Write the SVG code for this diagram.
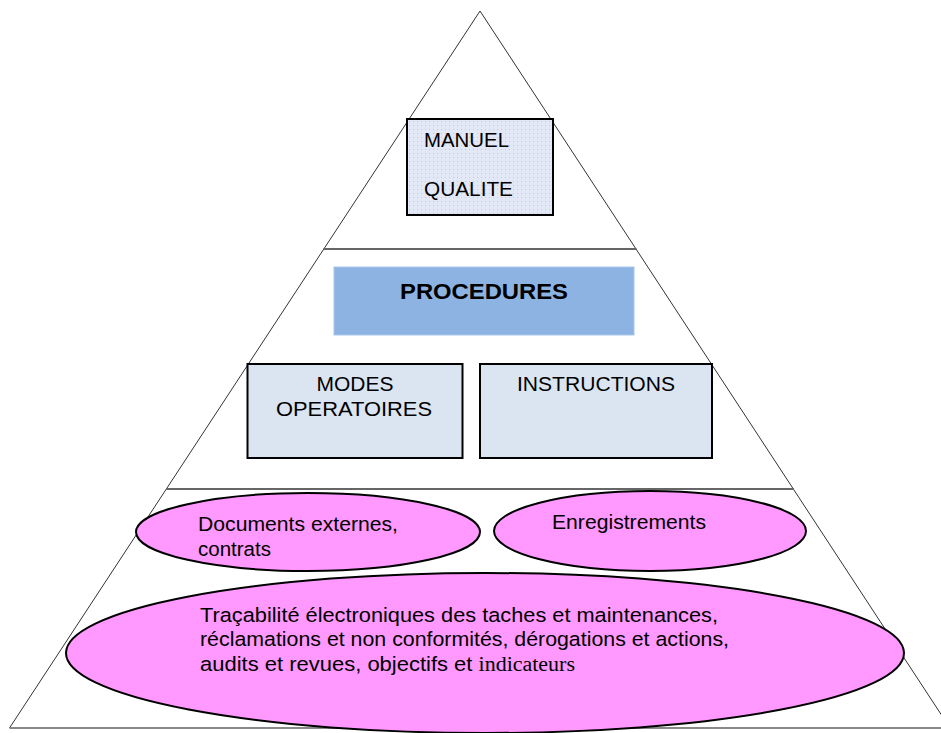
<svg xmlns="http://www.w3.org/2000/svg" width="941" height="733" viewBox="0 0 941 733">
  <style>
    .side { stroke: #333; stroke-width: 1; fill: none; }
    .divider { stroke: #666; stroke-width: 2; fill: none; }
    .base { stroke: #888; stroke-width: 2; fill: none; }
    .box { fill: #dbe5f1; stroke: #000; stroke-width: 2; }
    .oval { fill: #ff99ff; stroke: #000; stroke-width: 2; }
    .t { font-family: "Liberation Sans", Arial, sans-serif; fill: #000; }
    .serif { font-family: "Liberation Serif", "Times New Roman", serif; }
  </style>
  <defs>
    <pattern id="dots" width="4" height="4" patternUnits="userSpaceOnUse">
      <rect width="4" height="4" fill="#e2e8f5"/>
      <rect x="1" y="1" width="1" height="1" fill="#f2b6c8"/>
    </pattern>
  </defs>

  <rect width="941" height="733" fill="#fff"/>

  <!-- pyramid outline and level separators -->
  <g id="pyramid">
    <line class="side" x1="480" y1="11" x2="9.5" y2="728"/>
    <line class="side" x1="480" y1="11" x2="950" y2="728"/>
    <line class="divider" x1="323.5" y1="249" x2="636.5" y2="249"/>
    <line class="divider" x1="166" y1="489" x2="794" y2="489"/>
    <line class="base" x1="9.5" y1="728" x2="941" y2="728"/>
  </g>

  <g id="manuel-qualite">
    <rect x="407" y="119" width="146" height="96" fill="url(#dots)" stroke="#000" stroke-width="2"/>
    <text class="t" x="424" y="147" font-size="20" textLength="85" lengthAdjust="spacingAndGlyphs">MANUEL</text>
    <text class="t" x="424" y="196" font-size="20" textLength="89" lengthAdjust="spacingAndGlyphs">QUALITE</text>
  </g>

  <g id="procedures">
    <rect x="334" y="267" width="300" height="68" fill="#8db3e2" stroke="#a9c6ea" stroke-width="1"/>
    <text class="t" x="400" y="299" font-size="22" font-weight="bold" textLength="168" lengthAdjust="spacingAndGlyphs">PROCEDURES</text>
  </g>

  <g id="modes-operatoires">
    <rect class="box" x="247.5" y="364" width="215" height="94"/>
    <text class="t" x="316.5" y="391" font-size="20" textLength="77" lengthAdjust="spacingAndGlyphs">MODES</text>
    <text class="t" x="276" y="416" font-size="20" textLength="156" lengthAdjust="spacingAndGlyphs">OPERATOIRES</text>
  </g>

  <g id="instructions">
    <rect class="box" x="480" y="364" width="232" height="94"/>
    <text class="t" x="517" y="391" font-size="20" textLength="158" lengthAdjust="spacingAndGlyphs">INSTRUCTIONS</text>
  </g>

  <g id="documents-externes">
    <ellipse class="oval" cx="308" cy="532" rx="172" ry="39"/>
    <text class="t" x="198" y="531" font-size="20.5" textLength="200" lengthAdjust="spacingAndGlyphs">Documents externes,</text>
    <text class="t" x="198" y="556" font-size="20.5" textLength="73" lengthAdjust="spacingAndGlyphs">contrats</text>
  </g>

  <g id="enregistrements">
    <ellipse class="oval" cx="650" cy="531" rx="156" ry="40"/>
    <text class="t" x="552" y="529" font-size="20.5" textLength="154" lengthAdjust="spacingAndGlyphs">Enregistrements</text>
  </g>

  <g id="tracabilite">
    <ellipse class="oval" cx="485" cy="653" rx="419" ry="80"/>
    <text class="t" x="200" y="622" font-size="20.5" textLength="518" lengthAdjust="spacingAndGlyphs">Traçabilité électroniques des taches et maintenances,</text>
    <text class="t" x="200" y="646" font-size="20.5" textLength="529" lengthAdjust="spacingAndGlyphs">réclamations et non conformités, dérogations et actions,</text>
    <text class="t" x="200" y="671" font-size="20.5" textLength="375" lengthAdjust="spacingAndGlyphs">audits et revues, objectifs et <tspan class="serif">indicateurs</tspan></text>
  </g>

  <!-- no connectors in this figure -->
  <g id="connectors"/>
</svg>
